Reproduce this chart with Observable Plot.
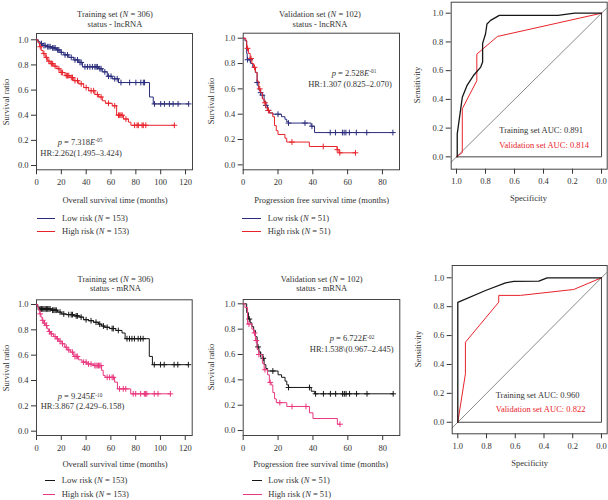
<!DOCTYPE html>
<html><head><meta charset="utf-8">
<script src="https://cdn.jsdelivr.net/npm/d3@7"></script>
<script src="https://cdn.jsdelivr.net/npm/@observablehq/plot@0.6"></script>
<style>
body{margin:0;background:#fff;}
#root{position:relative;width:608px;height:500px;overflow:hidden;background:#fff;font-family:"Liberation Serif","DejaVu Serif",serif;color:#333;}
.abs{position:absolute;white-space:nowrap;line-height:1;}
.pl{position:absolute;}
.ln{position:absolute;height:0;}
sup{font-size:0.62em;position:relative;top:-0.45em;vertical-align:baseline;line-height:0;}
</style></head><body><div id="root"></div><script>
// ---------- Kaplan–Meier data (time in months, survival ratio) ----------
// Panel A: training set, lncRNA (overall survival)
const lncTrainLowT = [0, 1.5, 3, 5, 8, 12, 16, 19, 22, 26, 30, 34, 37, 50, 53, 57, 61, 66, 91, 94, 122.5];
const lncTrainLowS = [1, 0.985, 0.97, 0.955, 0.945, 0.935, 0.92, 0.90, 0.88, 0.86, 0.84, 0.82, 0.785, 0.77, 0.745, 0.71, 0.69, 0.66, 0.545, 0.49, 0.49];
const lncTrainLowC = [4, 6, 7, 9, 10, 11, 13, 14, 15, 17, 18, 20, 23, 25, 28, 31, 33, 35, 36, 39, 41, 43, 45, 47, 48, 49, 51, 52, 55, 58, 60, 63, 65, 68, 75, 80, 84, 86, 87, 95, 100, 103, 107, 110, 114, 122.5];
const lncTrainHighT = [0, 1, 2.5, 3.8, 5.3, 7, 9, 11, 14, 16.5, 19, 23, 27, 30, 34, 38, 42, 47, 50, 53, 55.5, 61, 64.5, 70, 74, 76, 111];
const lncTrainHighS = [1, 0.98, 0.945, 0.915, 0.89, 0.86, 0.83, 0.81, 0.79, 0.77, 0.74, 0.715, 0.70, 0.675, 0.65, 0.62, 0.595, 0.565, 0.545, 0.515, 0.495, 0.475, 0.40, 0.37, 0.345, 0.32, 0.32];
const lncTrainHighC = [3, 6, 8, 10, 12, 13, 15, 18, 20, 21, 24, 25, 26, 28, 29, 31, 33, 36, 40, 44, 46, 49, 52, 58, 63, 66, 67, 68, 69, 72, 79, 81, 82, 85, 86, 88, 111];
// Panel B: validation set, lncRNA (progression free survival)
const lncValLowT = [0, 1, 2, 2.3, 4.3, 5.5, 7, 8, 8.5, 9, 10, 11, 12, 13, 14, 15, 17, 22, 24, 25, 26, 39, 41, 86];
const lncValLowS = [1, 0.98, 0.88, 0.83, 0.80, 0.77, 0.73, 0.65, 0.62, 0.59, 0.57, 0.55, 0.50, 0.47, 0.43, 0.41, 0.40, 0.38, 0.36, 0.34, 0.33, 0.305, 0.255, 0.255];
const lncValLowC = [2.5, 4, 8, 10, 11, 13, 14.5, 20, 26, 35.5, 39.5, 50, 53, 57, 58, 59, 61, 65, 71, 86];
const lncValHighT = [0, 1.5, 2, 3, 4, 5, 6, 7, 8, 9, 10, 11, 12, 13, 14, 15, 17, 18, 19, 20, 24, 25, 38, 54, 55, 64.5];
const lncValHighS = [1, 0.98, 0.92, 0.88, 0.84, 0.80, 0.77, 0.73, 0.66, 0.60, 0.57, 0.52, 0.49, 0.45, 0.43, 0.41, 0.38, 0.31, 0.27, 0.24, 0.21, 0.18, 0.145, 0.12, 0.095, 0.095];
const lncValHighC = [2.5, 4.5, 6.5, 9.5, 12.5, 14.5, 28, 46, 54, 55.5, 64.5];
// Panel D: training set, mRNA
const mrnaTrainLowT = [0, 1, 2.5, 12, 17, 20, 24, 30, 35, 38, 42, 46, 50, 52.5, 55, 59, 64, 69, 71.5, 91, 93.5, 122.5];
const mrnaTrainLowS = [1, 0.98, 0.965, 0.955, 0.94, 0.925, 0.92, 0.91, 0.90, 0.88, 0.872, 0.86, 0.845, 0.83, 0.82, 0.81, 0.795, 0.775, 0.73, 0.59, 0.525, 0.525];
const mrnaTrainLowC = [3, 4, 5, 6, 7, 8, 9, 10, 11, 13, 14, 15, 16, 19, 22, 26, 28, 29, 32, 33, 36, 40, 44, 48, 51, 54, 57, 61, 62, 66, 73, 75, 77, 79, 82, 84, 86, 95, 100, 103, 111, 114, 122.5];
const mrnaTrainHighT = [0, 1, 1.8, 2.6, 3.6, 4.6, 5.8, 7, 8.5, 9.8, 11.2, 13.8, 16, 18, 20.5, 22.8, 24.7, 27.3, 30, 34, 36.7, 40.8, 46, 52.5, 53.8, 55.3, 63, 65.3, 76, 108];
const mrnaTrainHighS = [1, 0.975, 0.953, 0.926, 0.90, 0.875, 0.853, 0.834, 0.808, 0.787, 0.768, 0.747, 0.729, 0.71, 0.69, 0.663, 0.642, 0.624, 0.59, 0.563, 0.545, 0.53, 0.518, 0.48, 0.44, 0.425, 0.387, 0.334, 0.295, 0.295];
const mrnaTrainHighC = [3, 5, 6.5, 8, 10.5, 12, 15, 17, 19, 21, 24, 26, 29, 31, 32, 33, 38, 40, 42, 44, 47, 48, 49, 50, 51, 52, 57, 59, 61, 62, 67, 70, 72, 78, 80, 84, 87, 88, 89, 95, 98, 108];
// Panel E: validation set, mRNA
const mrnaValLowT = [0, 2, 3, 4, 5, 6, 7, 8, 9, 10, 11, 12, 13, 14, 20, 22, 24, 25, 26, 39, 41, 86];
const mrnaValLowS = [1, 0.93, 0.88, 0.85, 0.82, 0.79, 0.74, 0.66, 0.62, 0.60, 0.57, 0.52, 0.49, 0.47, 0.44, 0.42, 0.39, 0.36, 0.34, 0.31, 0.29, 0.29];
const mrnaValLowC = [3.5, 8.5, 10, 11.5, 17, 26, 38, 41.5, 46, 50, 53, 57, 58, 59, 61, 65, 71, 86];
const mrnaValHighT = [0, 1, 2.5, 5, 6, 7, 8, 9, 11, 12, 14, 15, 16, 17, 18, 19, 25, 38, 40, 54, 55.5];
const mrnaValHighS = [1, 0.97, 0.84, 0.80, 0.77, 0.71, 0.64, 0.60, 0.53, 0.48, 0.44, 0.38, 0.36, 0.30, 0.25, 0.22, 0.19, 0.14, 0.095, 0.05, 0.05];
const mrnaValHighC = [3.3, 6.5, 7.5, 9, 12.5, 15.5, 21, 28, 36, 55.5];

// ---------- ROC data (specificity, sensitivity) ----------
const rocLncTrainSpec = [0.995, 0.995, 0.96, 0.926, 0.88, 0.833, 0.82, 0.82, 0.80, 0.79, 0.765, 0.705, 0.30, 0.185, 0];
const rocLncTrainSens = [0, 0.16, 0.415, 0.50, 0.57, 0.625, 0.66, 0.79, 0.855, 0.925, 0.95, 0.985, 0.985, 1, 1];
const rocLncValSpec = [1, 0.96, 0.96, 0.86, 0.86, 0.718, 0];
const rocLncValSens = [0, 0.03, 0.335, 0.53, 0.715, 0.838, 1];
const rocMrnaTrainSpec = [1, 1, 0.807, 0.668, 0.61, 0.436, 0.378, 0];
const rocMrnaTrainSens = [0, 0.83, 0.912, 0.965, 0.975, 0.977, 1, 1];
const rocMrnaValSpec = [1, 0.947, 0.947, 0.715, 0.715, 0.564, 0.193, 0];
const rocMrnaValSens = [0, 0.335, 0.554, 0.831, 0.878, 0.878, 0.919, 1];
const refSpec = [1, 0, 0];
const refSens = [0, 0, 1];

// ---------- tick labels ----------
const kmTrainTicks = [0, 20, 40, 60, 80, 100, 120];
const kmValTicks = [0, 20, 40, 60, 80];
const survTicks = [0, 0.2, 0.4, 0.6, 0.8, 1.0];
const rocTicks = [0, 0.2, 0.4, 0.6, 0.8, 1.0];

const navy = "#2b2d7c", red = "#e8232b", pink = "#e8387f", black = "#161616", frameC = "#444";
const root = document.getElementById("root");
const FS = 8.5;
const fmt1 = d3.format(".1f");

function txt(html, x, y, {anchor = "middle", size = FS, color = "#333", rotate = false} = {}) {
  const d = document.createElement("div");
  d.className = "abs";
  d.innerHTML = html;
  d.style.left = x + "px"; d.style.top = y + "px";
  d.style.fontSize = size + "px"; d.style.color = color;
  const tx = anchor === "middle" ? "-50%" : anchor === "end" ? "-100%" : "0";
  d.style.transform = `translate(${tx},-50%)` + (rotate ? " rotate(-90deg)" : "");
  root.appendChild(d);
}
function legLine(x1, x2, y, color) {
  const d = document.createElement("div");
  d.className = "ln";
  d.style.left = x1 + "px"; d.style.top = (y - 0.5) + "px"; d.style.width = (x2 - x1) + "px";
  d.style.borderTop = "1px solid " + color;
  root.appendChild(d);
}
function place(svg, left, top) {
  const w = document.createElement("div");
  w.className = "pl"; w.style.left = left + "px"; w.style.top = top + "px";
  w.appendChild(svg); root.appendChild(w);
}
function survAt(T, S, t) {
  let s = S[0];
  for (let i = 0; i < T.length; i++) { if (T[i] <= t) s = S[i]; else break; }
  return s;
}
const style = {fontFamily: "'Liberation Serif', 'DejaVu Serif', serif", fontSize: FS + "px", color: "#333", background: "transparent", overflow: "visible"};

function km({left, top, width, height, ml, mt, mr, mb, xMax, yDom, xTicks, curves}) {
  const marks = [Plot.frame({stroke: frameC, strokeWidth: 1})];
  for (const c of curves) {
    const pts = c.T.map((t, i) => ({t, s: c.S[i]}));
    marks.push(Plot.line(pts, {x: "t", y: "s", curve: "step-after", stroke: c.color, strokeWidth: 1}));
    const cens = c.C.map(t => ({t, s: survAt(c.T, c.S, t)}));
    marks.push(Plot.dot(cens, {x: "t", y: "s", symbol: "plus", r: 2, stroke: c.color, strokeWidth: 1}));
  }
  const svg = Plot.plot({
    width, height, marginLeft: ml, marginTop: mt, marginRight: mr, marginBottom: mb,
    style,
    x: {domain: [0, xMax], ticks: xTicks, tickSize: 5, tickPadding: 4, label: null, tickFormat: d3.format("d")},
    y: {domain: yDom, ticks: survTicks, tickSize: 5, tickPadding: 3, label: null, tickFormat: fmt1},
    marks
  });
  place(svg, left, top);
}

function roc({left, top, width, height, ml, mt, mr, mb, xDom, yDom, curves}) {
  const lo = Math.min(...xDom) - 0.3, hi = Math.max(...xDom) + 0.3;
  const diag = [lo, hi].map(s => ({s, v: 1 - s}));
  const ref = refSpec.map((s, i) => ({s, v: refSens[i]}));
  const marks = [
    Plot.line(diag, {x: "s", y: "v", stroke: "#8a8a8a", strokeWidth: 1, clip: true}),
    Plot.line(ref, {x: "s", y: "v", stroke: frameC, strokeWidth: 1})
  ];
  for (const c of curves) {
    const pts = c.x.map((s, i) => ({s, v: c.y[i]}));
    marks.push(Plot.line(pts, {x: "s", y: "v", stroke: c.color, strokeWidth: c.w}));
  }
  marks.push(Plot.frame({stroke: frameC, strokeWidth: 1}));
  const svg = Plot.plot({
    width, height, marginLeft: ml, marginTop: mt, marginRight: mr, marginBottom: mb,
    style,
    x: {domain: xDom, ticks: rocTicks, tickSize: 5, tickPadding: 4, label: null, tickFormat: fmt1},
    y: {domain: yDom, ticks: rocTicks, tickSize: 5, tickPadding: 3, label: null, tickFormat: fmt1},
    marks
  });
  place(svg, left, top);
}

// ---- Panel A ----
km({left: 0, top: 0, width: 200, height: 200, ml: 36, mt: 33, mr: 8, mb: 30.7, xMax: 125.6, yDom: [-0.034, 1.05], xTicks: kmTrainTicks,
  curves: [
    {T: lncTrainLowT, S: lncTrainLowS, C: lncTrainLowC, color: navy},
    {T: lncTrainHighT, S: lncTrainHighS, C: lncTrainHighC, color: red}
  ]});
txt("Training set (<i>N</i> = 306)", 115, 14);
txt("status - lncRNA", 115, 24);
txt("Survival ratio", 6, 102, {rotate: true});
txt("Overall survival time (months)", 115, 200);
txt("<i>p</i> = 7.318<i>E</i><sup>-05</sup>", 80, 141.7);
txt("HR:2.262(1.495–3.424)", 81, 152.7);
legLine(37, 55, 218.3, navy); txt("Low risk (<i>N</i> = 153)", 62, 218.3, {anchor: "start"});
legLine(37, 55, 231, red); txt("High risk (<i>N</i> = 153)", 62, 231, {anchor: "start"});

// ---- Panel B ----
km({left: 200, top: 0, width: 208, height: 200, ml: 42.7, mt: 32.7, mr: 9, mb: 30.7, xMax: 89.8, yDom: [-0.039, 1.0395], xTicks: kmValTicks,
  curves: [
    {T: lncValLowT, S: lncValLowS, C: lncValLowC, color: navy},
    {T: lncValHighT, S: lncValHighS, C: lncValHighC, color: red}
  ]});
txt("Validation set (<i>N</i> = 102)", 320, 14);
txt("status - lncRNA", 320, 24);
txt("Survival ratio", 211, 101, {rotate: true});
txt("Progression free survival time (months)", 321.7, 200);
txt("<i>p</i> = 2.528<i>E</i><sup>-01</sup>", 354, 72.7);
txt("HR:1.307 (0.825–2.070)", 350, 84);
legLine(241.7, 260.7, 218.3, navy); txt("Low risk (<i>N</i> = 51)", 267.7, 218.3, {anchor: "start"});
legLine(241.7, 260.7, 231, red); txt("High risk (<i>N</i> = 51)", 267.7, 231, {anchor: "start"});

// ---- Panel C (ROC lncRNA) ----
roc({left: 400, top: 0, width: 208, height: 210, ml: 50.7, mt: 1.7, mr: 1.3, mb: 41.3, xDom: [1.0366, -0.039], yDom: [-0.086, 1.0766],
  curves: [
    {x: rocLncValSpec, y: rocLncValSens, color: red, w: 1},
    {x: rocLncTrainSpec, y: rocLncTrainSens, color: black, w: 1.3}
  ]});
txt("Sensitivity", 417, 85, {rotate: true});
txt("Specificity", 528.5, 198.3);
txt("Training set AUC: 0.891", 499.3, 130, {anchor: "start"});
txt("Validation set AUC: 0.814", 499.3, 145, {anchor: "start", color: red});

// ---- Panel D ----
km({left: 0, top: 250, width: 200, height: 215, ml: 36, mt: 49.3, mr: 8.3, mb: 30, xMax: 125.6, yDom: [-0.034, 1.037], xTicks: kmTrainTicks,
  curves: [
    {T: mrnaTrainLowT, S: mrnaTrainLowS, C: mrnaTrainLowC, color: black},
    {T: mrnaTrainHighT, S: mrnaTrainHighS, C: mrnaTrainHighC, color: pink}
  ]});
txt("Training set (<i>N</i> = 306)", 115.5, 279.3);
txt("status - mRNA", 115.5, 288.3);
txt("Survival ratio", 6, 367.5, {rotate: true});
txt("Overall survival time (months)", 115, 464.3);
txt("<i>p</i> = 9.245<i>E</i><sup>-10</sup>", 80, 396);
txt("HR:3.867 (2.429–6.158)", 82.5, 405.7);
legLine(45, 55, 480, black); txt("Low risk (<i>N</i> = 153)", 61.7, 480, {anchor: "start"});
legLine(43, 55, 494.3, pink); txt("High risk (<i>N</i> = 153)", 61.7, 494.3, {anchor: "start"});

// ---- Panel E ----
km({left: 200, top: 250, width: 208, height: 215, ml: 42.7, mt: 49, mr: 8.7, mb: 30, xMax: 89.8, yDom: [-0.039, 1.034], xTicks: kmValTicks,
  curves: [
    {T: mrnaValLowT, S: mrnaValLowS, C: mrnaValLowC, color: black},
    {T: mrnaValHighT, S: mrnaValHighS, C: mrnaValHighC, color: pink}
  ]});
txt("Validation set (<i>N</i> = 102)", 321.7, 279.3);
txt("status - mRNA", 321.7, 288.3);
txt("Survival ratio", 211, 366.7, {rotate: true});
txt("Progression free survival time (months)", 320.7, 464.3);
txt("<i>p</i> = 6.722<i>E</i><sup>-02</sup>", 352, 338.3);
txt("HR:1.538\\(0.967–2.445)", 351.7, 349);
legLine(251.7, 261.7, 480, black); txt("Low risk (<i>N</i> = 51)", 268.3, 480, {anchor: "start"});
legLine(243, 261.7, 494.3, pink); txt("High risk (<i>N</i> = 51)", 268.3, 494.3, {anchor: "start"});

// ---- Panel F (ROC mRNA) ----
roc({left: 400, top: 250, width: 208, height: 210, ml: 51.7, mt: 15, mr: 1.3, mb: 26.7, xDom: [1.039, -0.04], yDom: [-0.080, 1.085],
  curves: [
    {x: rocMrnaValSpec, y: rocMrnaValSens, color: red, w: 1},
    {x: rocMrnaTrainSpec, y: rocMrnaTrainSens, color: black, w: 1.3}
  ]});
txt("Sensitivity", 418.3, 349, {rotate: true});
txt("Specificity", 529.7, 463.3);
txt("Training set AUC: 0.960", 495.7, 395, {anchor: "start"});
txt("Validation set AUC: 0.822", 495.7, 409.3, {anchor: "start", color: red});
</script></body></html>
